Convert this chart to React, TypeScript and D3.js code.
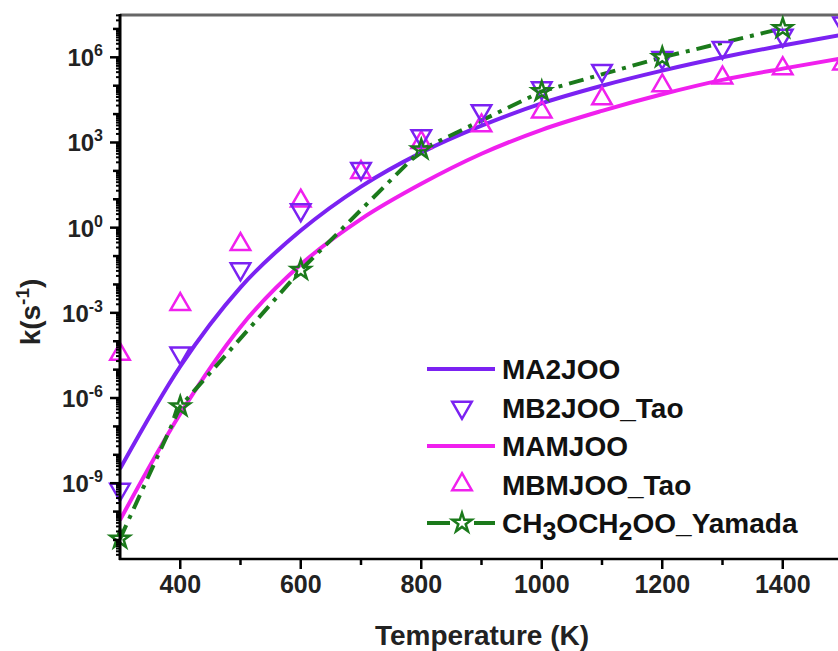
import React, { useEffect, useRef } from 'react';
import * as d3 from 'd3';

// temperatures (K) shared by the model curves and the Tao points
const temps = [300, 400, 500, 600, 700, 800, 900, 1000, 1100, 1200, 1300, 1400, 1500];

// rate constants k (s^-1)
const ma2joo = [3.2e-9, 1.3e-5, 7.9e-3, 0.79, 28, 440, 3.9e3, 2.4e4, 1.0e5, 3.4e5, 1.0e6, 2.6e6, 6.3e6];
const mamjoo = [5.0e-11, 2.8e-7, 3.2e-4, 5.0e-2, 2.0, 35, 400, 2.8e3, 1.3e4, 5.0e4, 1.6e5, 4.0e5, 9.3e5];
const mb2jooTao = [6.0e-10, 3.8e-5, 3.5e-2, 4.2, 120, 1.7e3, 1.3e4, 8.3e4, 3.4e5, 9.8e5, 2.2e6, 5.9e6, 1.6e7];
const mbmjooTao = [3.5e-5, 2.0e-3, 0.26, 8.7, 89, 1.0e3, 3.9e3, 1.2e4, 3.5e4, 1.0e5, 1.9e5, 4.0e5, 5.9e5];

const yamadaTemps = [300, 400, 600, 800, 1000, 1200, 1400];
const yamada = [1.1e-11, 5.0e-7, 3.2e-2, 5.6e2, 6.3e4, 1.0e6, 1.05e7];

const xTicks = [400, 600, 800, 1000, 1200, 1400];
const xMinorTicks = [500, 700, 900, 1100, 1300, 1500];
const yTickExps = [-9, -6, -3, 0, 3, 6];

const VIOLET = '#7b22f2';
const MAGENTA = '#f020ee';
const GREEN = '#1b7a1b';
const FONT = '"Liberation Sans", Arial, sans-serif';

const App = () => {
  const ref = useRef(null);

  useEffect(() => {
    if (!ref.current) return;
    const svg = d3.select(ref.current);
    svg.selectAll('*').remove();

    const left = 120, top = 15, bottom = 559, right = 843;
    const x = d3.scaleLinear().domain([300, 1500]).range([left, right]);
    const y = d3.scaleLog().domain([Math.pow(10, -11.67), Math.pow(10, 7.49)]).range([bottom, top]);

    svg.append('rect').attr('width', 838).attr('height', 651).attr('fill', '#fff');

    svg.append('defs').append('clipPath').attr('id', 'plot')
      .append('rect').attr('x', left).attr('y', top).attr('width', right - left).attr('height', bottom - top);

    // top frame
    svg.append('line').attr('x1', left).attr('x2', right).attr('y1', top).attr('y2', top)
      .attr('stroke', '#666').attr('stroke-width', 3);

    // model curves
    const line = d3.line<[number, number]>()
      .x(d => x(d[0])).y(d => y(d[1])).curve(d3.curveMonotoneX);

    const curves = svg.append('g').attr('clip-path', 'url(#plot)');
    curves.append('path').datum(temps.map((t, i) => [t, mamjoo[i]] as [number, number]))
      .attr('d', line).attr('fill', 'none').attr('stroke', MAGENTA).attr('stroke-width', 4);
    curves.append('path').datum(temps.map((t, i) => [t, ma2joo[i]] as [number, number]))
      .attr('d', line).attr('fill', 'none').attr('stroke', VIOLET).attr('stroke-width', 4);
    curves.append('path').datum(yamadaTemps.map((t, i) => [t, yamada[i]] as [number, number]))
      .attr('d', d3.line<[number, number]>().x(d => x(d[0])).y(d => y(d[1])))
      .attr('fill', 'none').attr('stroke', GREEN).attr('stroke-width', 4)
      .attr('stroke-dasharray', '15 7 4 7');

    const tri = d3.symbol().type(d3.symbolTriangle).size(165)();
    const star = d3.symbol().type(d3.symbolStar).size(115)();

    const marks = svg.append('g');
    marks.selectAll('.up').data(temps.map((t, i) => [t, mbmjooTao[i]]))
      .enter().append('path')
      .attr('d', tri)
      .attr('transform', d => `translate(${x(d[0])},${y(d[1])})`)
      .attr('fill', 'none').attr('stroke', MAGENTA).attr('stroke-width', 2.5);
    marks.selectAll('.down').data(temps.map((t, i) => [t, mb2jooTao[i]]))
      .enter().append('path')
      .attr('d', tri)
      .attr('transform', d => `translate(${x(d[0])},${y(d[1])}) rotate(180)`)
      .attr('fill', 'none').attr('stroke', VIOLET).attr('stroke-width', 2.5);
    marks.selectAll('.star').data(yamadaTemps.map((t, i) => [t, yamada[i]]))
      .enter().append('path')
      .attr('d', star)
      .attr('transform', d => `translate(${x(d[0])},${y(d[1])})`)
      .attr('fill', 'none').attr('stroke', GREEN).attr('stroke-width', 2.5);

    // x axis
    const xa = svg.append('g');
    xa.append('line').attr('x1', left - 1).attr('x2', right).attr('y1', bottom).attr('y2', bottom)
      .attr('stroke', '#000').attr('stroke-width', 2.5);
    xa.selectAll('.xt').data(xTicks).enter().append('line')
      .attr('x1', d => x(d)).attr('x2', d => x(d)).attr('y1', bottom).attr('y2', bottom + 10)
      .attr('stroke', '#000').attr('stroke-width', 2.5);
    xa.selectAll('.xm').data(xMinorTicks).enter().append('line')
      .attr('x1', d => x(d)).attr('x2', d => x(d)).attr('y1', bottom).attr('y2', bottom + 6)
      .attr('stroke', '#000').attr('stroke-width', 2.5);
    xa.selectAll('.xl').data(xTicks).enter().append('text')
      .attr('x', d => x(d)).attr('y', 593).attr('text-anchor', 'middle')
      .attr('font-family', FONT).attr('font-weight', 'bold').attr('font-size', 25).attr('fill', '#222')
      .text(d => d);
    svg.append('text').attr('x', 482).attr('y', 645).attr('text-anchor', 'middle')
      .attr('font-family', FONT).attr('font-weight', 'bold').attr('font-size', 28).attr('fill', '#222')
      .text('Temperature (K)');

    // y axis
    const ya = svg.append('g');
    const [d0, d1] = y.domain().map(v => Math.log10(v));
    const decades = d3.range(Math.ceil(d0), Math.floor(d1) + 1);
    const subs: number[] = [];
    d3.range(Math.floor(d0), Math.ceil(d1)).forEach(e => {
      for (let m = 2; m < 10; m++) {
        const v = m * Math.pow(10, e);
        if (v >= y.domain()[0] && v <= y.domain()[1]) subs.push(v);
      }
    });
    ya.selectAll('.ys').data(subs).enter().append('line')
      .attr('x1', left - 4).attr('x2', left).attr('y1', d => y(d)).attr('y2', d => y(d))
      .attr('stroke', '#000').attr('stroke-width', 2);
    ya.selectAll('.yd').data(decades).enter().append('line')
      .attr('x1', d => (d % 3 === 0 ? left - 10 : left - 7)).attr('x2', left)
      .attr('y1', d => y(Math.pow(10, d))).attr('y2', d => y(Math.pow(10, d)))
      .attr('stroke', '#000').attr('stroke-width', 2.5);
    ya.append('line').attr('x1', left).attr('x2', left).attr('y1', top - 1).attr('y2', bottom + 1)
      .attr('stroke', '#000').attr('stroke-width', 3);
    const yl = ya.selectAll('.yl').data(yTickExps).enter().append('text')
      .attr('x', 103).attr('y', d => y(Math.pow(10, d)) + 9).attr('text-anchor', 'end')
      .attr('font-family', FONT).attr('font-weight', 'bold').attr('font-size', 24).attr('fill', '#222');
    yl.append('tspan').text('10');
    yl.append('tspan').attr('dy', -10).attr('font-size', 16).text(d => `${d}`);

    const yt = svg.append('text').attr('transform', 'translate(40,312) rotate(-90)')
      .attr('text-anchor', 'middle')
      .attr('font-family', FONT).attr('font-weight', 'bold').attr('font-size', 28).attr('fill', '#222');
    yt.append('tspan').text('k(s');
    yt.append('tspan').attr('dy', -11).attr('font-size', 19).text('-1');
    yt.append('tspan').attr('dy', 11).text(')');

    // legend
    const lg = svg.append('g');
    const rowY = [369, 407.5, 446, 484.5, 523];
    const lx1 = 427, lx2 = 495, lcx = 462, tx = 502;
    lg.append('line').attr('x1', lx1).attr('x2', lx2).attr('y1', rowY[0]).attr('y2', rowY[0])
      .attr('stroke', VIOLET).attr('stroke-width', 4);
    lg.append('path').attr('d', tri).attr('transform', `translate(${lcx},${rowY[1]}) rotate(180)`)
      .attr('fill', 'none').attr('stroke', VIOLET).attr('stroke-width', 2.5);
    lg.append('line').attr('x1', lx1).attr('x2', lx2).attr('y1', rowY[2]).attr('y2', rowY[2])
      .attr('stroke', MAGENTA).attr('stroke-width', 4);
    lg.append('path').attr('d', tri).attr('transform', `translate(${lcx},${rowY[3]})`)
      .attr('fill', 'none').attr('stroke', MAGENTA).attr('stroke-width', 2.5);
    lg.append('line').attr('x1', lx1).attr('x2', lcx - 12).attr('y1', rowY[4]).attr('y2', rowY[4])
      .attr('stroke', GREEN).attr('stroke-width', 4);
    lg.append('line').attr('x1', lcx + 12).attr('x2', lx2).attr('y1', rowY[4]).attr('y2', rowY[4])
      .attr('stroke', GREEN).attr('stroke-width', 4);
    lg.append('path').attr('d', star).attr('transform', `translate(${lcx},${rowY[4]})`)
      .attr('fill', 'none').attr('stroke', GREEN).attr('stroke-width', 2.5);

    const names = ['MA2JOO', 'MB2JOO_Tao', 'MAMJOO', 'MBMJOO_Tao'];
    names.forEach((n, i) => {
      lg.append('text').attr('x', tx).attr('y', rowY[i] + 10)
        .attr('font-family', FONT).attr('font-weight', 'bold').attr('font-size', 28).attr('fill', '#111')
        .text(n);
    });
    const ch = lg.append('text').attr('x', tx).attr('y', rowY[4] + 10)
      .attr('font-family', FONT).attr('font-weight', 'bold').attr('font-size', 28).attr('fill', '#111');
    ch.append('tspan').text('CH');
    ch.append('tspan').attr('dy', 7).attr('font-size', 25).text('3');
    ch.append('tspan').attr('dy', -7).text('OCH');
    ch.append('tspan').attr('dy', 7).attr('font-size', 25).text('2');
    ch.append('tspan').attr('dy', -7).text('OO_Yamada');
  }, []);

  return (
    <svg ref={ref} width={838} height={651}
      style={{ position: 'absolute', left: 0, top: 0, display: 'block' }} />
  );
};

export default App;
